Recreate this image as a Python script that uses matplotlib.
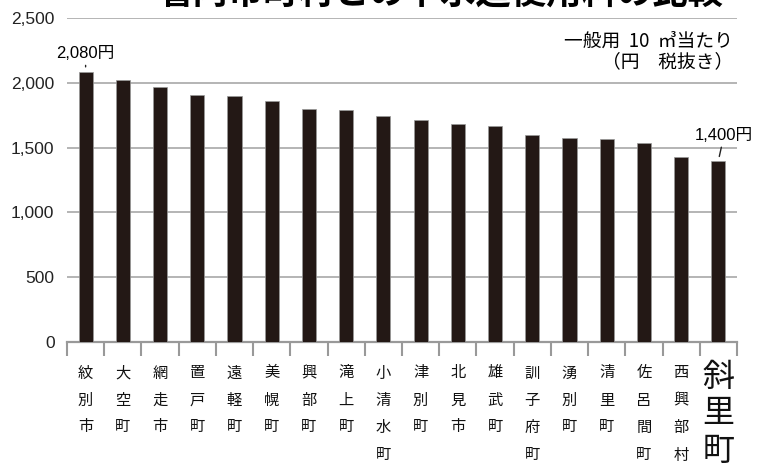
import numpy as np
import matplotlib
matplotlib.use("Agg")
import matplotlib.pyplot as plt
from matplotlib.transforms import blended_transform_factory

# データ（一般用 10㎥当たり 円 税抜き）
towns = ["紋別市", "大空町", "網走市", "置戸町", "遠軽町", "美幌町", "興部町", "滝上町",
         "小清水町", "津別町", "北見市", "雄武町", "訓子府町", "湧別町", "清里町",
         "佐呂間町", "西興部村", "斜里町"]
fees = [2080, 2020, 1970, 1905, 1900, 1860, 1800, 1790, 1745, 1715, 1680, 1670,
        1600, 1575, 1565, 1535, 1430, 1400]
yticks = [0, 500, 1000, 1500, 2000, 2500]
title = "管内市町村との下水道使用料の比較"

W, H = 766, 466
jp = ["Noto Sans CJK JP", "DejaVu Sans"]
num = ["Liberation Sans", "Noto Sans CJK JP"]
plt.rcParams["font.family"] = jp

fig = plt.figure(figsize=(W / 100, H / 100), dpi=100)
ax = fig.add_axes([67 / W, 1 - 342 / H, 670 / W, 324 / H])

x = np.arange(len(towns))
ax.bar(x, fees, width=0.38, color="#231815", edgecolor="#9a9a9a", linewidth=0.5, zorder=3)

ax.set_xlim(-0.5, len(towns) - 0.5)
ax.set_ylim(0, 2500)
ax.set_yticks(yticks)
ax.set_yticklabels([f"{v:,}" for v in yticks], fontsize=12.5, family=num, color="#222222")
ax.yaxis.grid(True, color="#a0a0a0", linewidth=1.1)
ax.set_axisbelow(True)
ax.tick_params(axis="y", length=0, pad=9)

for s in ["top", "left", "right"]:
    ax.spines[s].set_visible(False)
ax.spines["bottom"].set_color("#999999")
ax.spines["bottom"].set_linewidth(1.6)

ax.set_xticks(x)
ax.set_xticklabels([])
ax.tick_params(axis="x", which="major", length=0)
ax.set_xticks(np.arange(-0.5, len(towns)), minor=True)
ax.tick_params(axis="x", which="minor", direction="out", length=10, width=1.5, color="#999999")

# 縦書きの市町村名
tr = blended_transform_factory(ax.transData, fig.transFigure)
for i, name in enumerate(towns):
    if name == "斜里町":
        ys, fs = [377, 413, 451], 23
    else:
        ys, fs = [373, 400, 427, 455], 11
    for ch, py in zip(name, ys):
        ax.text(i, 1 - py / H, ch, transform=tr, ha="center", va="center",
                fontsize=fs, color="#111111")

# 最大値・最小値の注記
ax.annotate(f"{fees[0]:,}円", xy=(0, fees[0]), xytext=(0, 13.5), textcoords="offset points",
            ha="center", va="center", fontsize=12, family=num,
            arrowprops=dict(arrowstyle="-", color="#222222", lw=1, shrinkA=1, shrinkB=4))
ax.annotate(f"{fees[-1]:,}円", xy=(17, fees[-1]), xytext=(4, 18), textcoords="offset points",
            ha="center", va="center", fontsize=12, family=num,
            arrowprops=dict(arrowstyle="-", color="#222222", lw=1, shrinkA=1, shrinkB=3))

# 単位の注記
fig.text(733 / W, 1 - 41 / H, "一般用  10  ㎥当たり", ha="right", va="center", fontsize=13.5)
fig.text(733 / W, 1 - 62 / H, "（円　税抜き）", ha="right", va="center", fontsize=13.5)

fig.text(440 / W, 1 + 7 / H, title, ha="center", va="center", fontsize=25.5, fontweight="bold")

fig.savefig("out.png", dpi=100)
